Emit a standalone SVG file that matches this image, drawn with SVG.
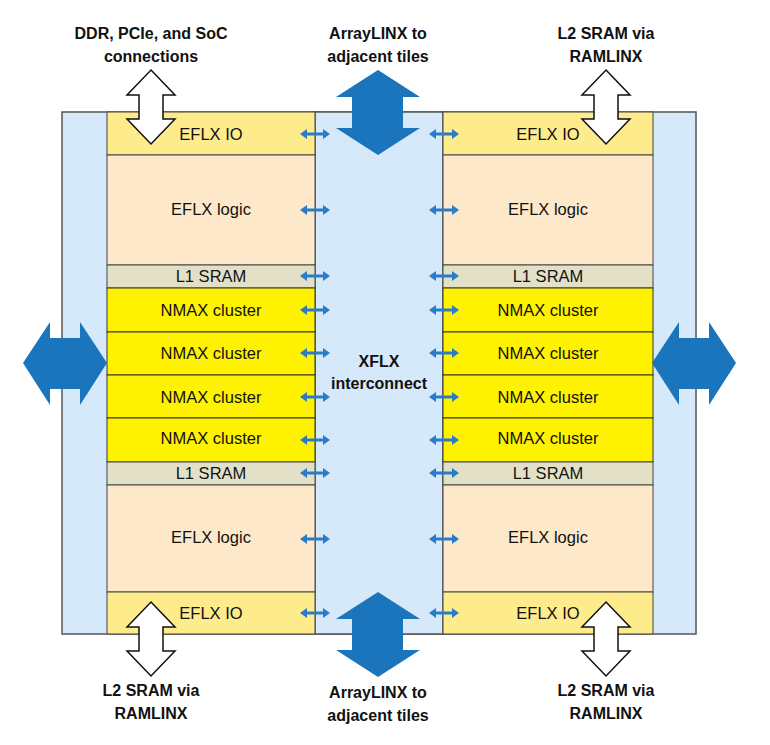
<svg xmlns="http://www.w3.org/2000/svg" width="770" height="745" viewBox="0 0 770 745">
<style>
.s{fill:#d6e9fb;stroke:#555;stroke-width:1.5}
.io{fill:#fdeb8c;stroke:#444;stroke-width:1}
.lg{fill:#fde8c9;stroke:#444;stroke-width:1}
.l1{fill:#e2e1c8;stroke:#444;stroke-width:1}
.nm{fill:#fff200;stroke:#333;stroke-width:1}
text{font-family:"Liberation Sans",Arial,sans-serif;text-anchor:middle;fill:#111}
.c{font-size:16.5px}
.b{font-size:16px;font-weight:bold}
.ba{fill:#1b75bc}
.wa{fill:#fff;stroke:#111;stroke-width:1.5}
.sm{fill:#2a7cc7}
</style>
<defs>
<path id="sa" class="sm" d="M-15,0 L-8,-5 L-8,-1.5 L8,-1.5 L8,-5 L15,0 L8,5 L8,1.5 L-8,1.5 L-8,5 Z"/>
<path id="va" d="M0,0 L24,25 L12,25 L12,49 L24,49 L0,74 L-24,49 L-12,49 L-12,25 L-24,25 Z"/>
</defs>
<g id="frame">
<rect class="s" x="62" y="112" width="634" height="522"/>
<rect class="s" x="315" y="112" width="128" height="522"/>
</g>
<g id="left">
<rect class="io" x="107" y="112" width="208" height="43"/><text class="c" x="211" y="140">EFLX IO</text>
<rect class="lg" x="107" y="155" width="208" height="110"/><text class="c" x="211" y="215">EFLX logic</text>
<rect class="l1" x="107" y="265" width="208" height="23"/><text class="c" x="211" y="282">L1 SRAM</text>
<rect class="nm" x="107" y="288" width="208" height="44"/><text class="c" x="211" y="316">NMAX cluster</text>
<rect class="nm" x="107" y="332" width="208" height="43"/><text class="c" x="211" y="359">NMAX cluster</text>
<rect class="nm" x="107" y="375" width="208" height="43"/><text class="c" x="211" y="403">NMAX cluster</text>
<rect class="nm" x="107" y="418" width="208" height="44"/><text class="c" x="211" y="444">NMAX cluster</text>
<rect class="l1" x="107" y="462" width="208" height="23"/><text class="c" x="211" y="479">L1 SRAM</text>
<rect class="lg" x="107" y="485" width="208" height="107"/><text class="c" x="211" y="543">EFLX logic</text>
<rect class="io" x="107" y="592" width="208" height="42"/><text class="c" x="211" y="619">EFLX IO</text>
</g>
<g id="right">
<rect class="io" x="443" y="112" width="210" height="43"/><text class="c" x="548" y="140">EFLX IO</text>
<rect class="lg" x="443" y="155" width="210" height="110"/><text class="c" x="548" y="215">EFLX logic</text>
<rect class="l1" x="443" y="265" width="210" height="23"/><text class="c" x="548" y="282">L1 SRAM</text>
<rect class="nm" x="443" y="288" width="210" height="44"/><text class="c" x="548" y="316">NMAX cluster</text>
<rect class="nm" x="443" y="332" width="210" height="43"/><text class="c" x="548" y="359">NMAX cluster</text>
<rect class="nm" x="443" y="375" width="210" height="43"/><text class="c" x="548" y="403">NMAX cluster</text>
<rect class="nm" x="443" y="418" width="210" height="44"/><text class="c" x="548" y="444">NMAX cluster</text>
<rect class="l1" x="443" y="462" width="210" height="23"/><text class="c" x="548" y="479">L1 SRAM</text>
<rect class="lg" x="443" y="485" width="210" height="107"/><text class="c" x="548" y="543">EFLX logic</text>
<rect class="io" x="443" y="592" width="210" height="42"/><text class="c" x="548" y="619">EFLX IO</text>
</g>
<g id="xflx"><text class="b" x="379" y="367">XFLX</text><text class="b" x="379" y="389">interconnect</text></g>
<g id="connectors">
<use href="#sa" x="315" y="134"/><use href="#sa" x="315" y="210"/><use href="#sa" x="315" y="276"/><use href="#sa" x="315" y="310"/><use href="#sa" x="315" y="353"/><use href="#sa" x="315" y="397"/><use href="#sa" x="315" y="440"/><use href="#sa" x="315" y="473"/><use href="#sa" x="315" y="539"/><use href="#sa" x="315" y="613"/>
<use href="#sa" x="444" y="134"/><use href="#sa" x="444" y="210"/><use href="#sa" x="444" y="276"/><use href="#sa" x="444" y="310"/><use href="#sa" x="444" y="353"/><use href="#sa" x="444" y="397"/><use href="#sa" x="444" y="440"/><use href="#sa" x="444" y="473"/><use href="#sa" x="444" y="539"/><use href="#sa" x="444" y="613"/>
<use href="#va" class="wa" x="151" y="70"/>
<use href="#va" class="wa" x="606" y="70"/>
<use href="#va" class="wa" x="151" y="602"/>
<use href="#va" class="wa" x="606" y="602"/>
<path class="ba" d="M378,70 L420,97 L403,97 L403,128 L420,128 L378,155 L336,128 L352,128 L352,97 L336,97 Z"/>
<path class="ba" d="M378,592 L420,619 L403,619 L403,650 L420,650 L378,677 L336,650 L352,650 L352,619 L336,619 Z"/>
<path class="ba" d="M23,363 L50,322 L50,338 L80,338 L80,322 L107,363 L80,405 L80,389 L50,389 L50,405 Z"/>
<path class="ba" d="M652,363 L679,322 L679,338 L709,338 L709,322 L736,363 L709,405 L709,389 L679,389 L679,405 Z"/>
</g>
<g id="labels">
<text class="b" x="151" y="39">DDR, PCIe, and SoC</text><text class="b" x="151" y="62">connections</text>
<text class="b" x="378" y="39">ArrayLINX to</text><text class="b" x="378" y="62">adjacent tiles</text>
<text class="b" x="606" y="39">L2 SRAM via</text><text class="b" x="606" y="62">RAMLINX</text>
<text class="b" x="151" y="696">L2 SRAM via</text><text class="b" x="151" y="719">RAMLINX</text>
<text class="b" x="378" y="698">ArrayLINX to</text><text class="b" x="378" y="721">adjacent tiles</text>
<text class="b" x="606" y="696">L2 SRAM via</text><text class="b" x="606" y="719">RAMLINX</text>
</g>
</svg>
